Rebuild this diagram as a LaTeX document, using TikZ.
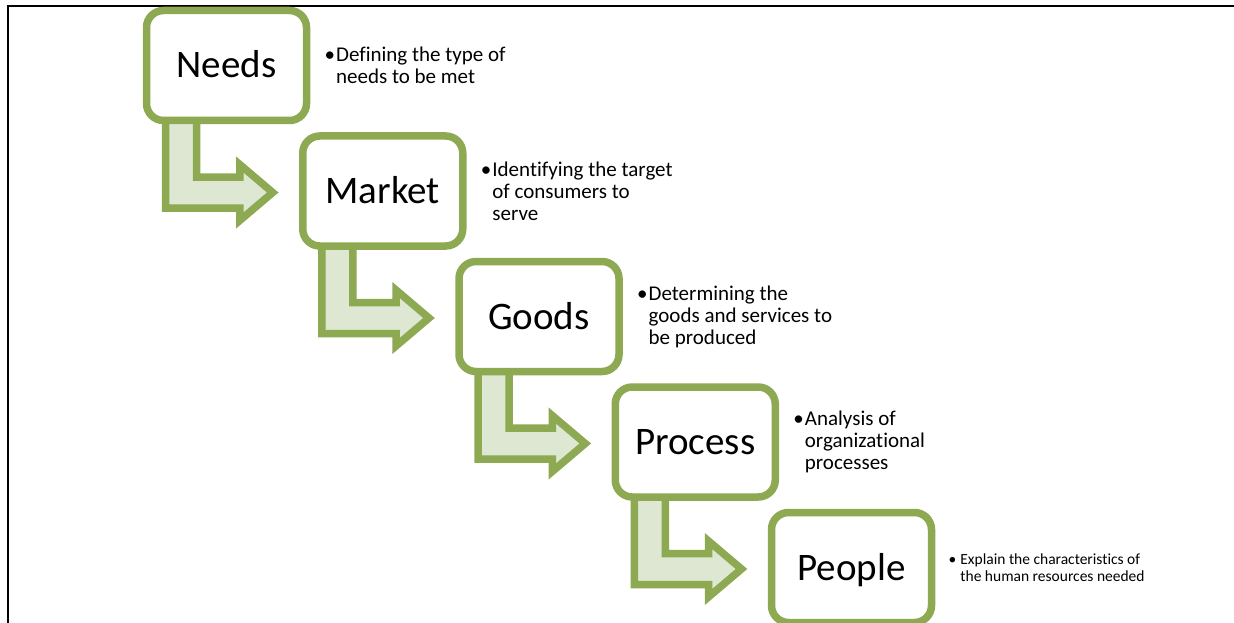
\documentclass[tikz,border=0pt]{standalone}
\usepackage{fontspec}
\setmainfont{Carlito}[Ligatures=NoCommon]
\usepackage{tikz}
\usetikzlibrary{calc,shadows,backgrounds}
\definecolor{cGreen}{RGB}{141,169,82}
\definecolor{cPale}{RGB}{222,231,210}

\tikzset{
  stepbox/.style={draw=cGreen,line width=7.5pt,fill=white,rounded corners=17pt,
    minimum width=160pt,minimum height=110pt,outer sep=0pt,inner sep=0pt,
    text height=25pt,text depth=0pt,font=\fontsize{39}{44}\selectfont,
    drop shadow={opacity=0.18,shadow xshift=2pt,shadow yshift=-3pt}},
  elbow/.style={draw=cGreen,fill=cPale,line width=7.5pt},
  note/.style={anchor=west,align=left,inner sep=0pt,font=\fontsize{21}{22}\selectfont},
}
% bent arrow from the bottom of #1 to the left side of #2
\newcommand{\stepArrow}[2]{%
\draw[elbow] ($(#1.west)+(19,0)$)
  -- ($(#1.west |- #2.center)+(19,17)$)
  -- ($(#2.west)+(-63,17)$)
  -- ($(#2.west)+(-63,29.5)$)
  -- ($(#2.west)+(-30,1.5)$)
  -- ($(#2.west)+(-63,-26.5)$)
  -- ($(#2.west)+(-63,-14)$)
  -- ($(#1.west |- #2.center)+(50,-14)$)
  -- ($(#1.west)+(50,0)$) -- cycle;}
\newcommand{\bul}{\textbullet\kern1pt}

\begin{document}
\begin{tikzpicture}[x=1pt,y=-1pt]
\useasboundingbox (0,0) rectangle (1234,623);
\clip (0,0) rectangle (1234,623);
\draw[line width=2pt] (8,623) -- (8,6) -- (1234,6);

\node[stepbox] (needs) at (226.5,65.5) {Needs};
\node[stepbox] (market) at (382.75,191) {Market};
\node[stepbox] (goods) at (539,316.5) {Goods};
\node[stepbox] (process) at (695.25,442) {Process};
\node[stepbox] (people) at (851.5,567.5) {People};

\begin{scope}[on background layer]
\stepArrow{needs}{market}
\stepArrow{market}{goods}
\stepArrow{goods}{process}
\stepArrow{process}{people}
\end{scope}

\node[note] (needsNote) at ($(needs.east)+(18,0)$)
  {\bul Defining the type of\\\hphantom{\bul}needs to be met};
\node[note] (marketNote) at ($(market.east)+(18,0)$)
  {\bul Identifying the target\\\hphantom{\bul}of consumers to\\\hphantom{\bul}serve};
\node[note] (goodsNote) at ($(goods.east)+(18,0)$)
  {\bul Determining the\\\hphantom{\bul}goods and services to\\\hphantom{\bul}be produced};
\node[note] (processNote) at ($(process.east)+(18,0)$)
  {\bul Analysis of\\\hphantom{\bul}organizational\\\hphantom{\bul}processes};
\node[note,font=\fontsize{15.5}{17}\selectfont] (peopleNote) at ($(people.east)+(17,0)$)
  {\textbullet\kern4pt Explain the characteristics of\\\hphantom{\textbullet\kern4pt}the human resources needed};
\end{tikzpicture}
\end{document}
